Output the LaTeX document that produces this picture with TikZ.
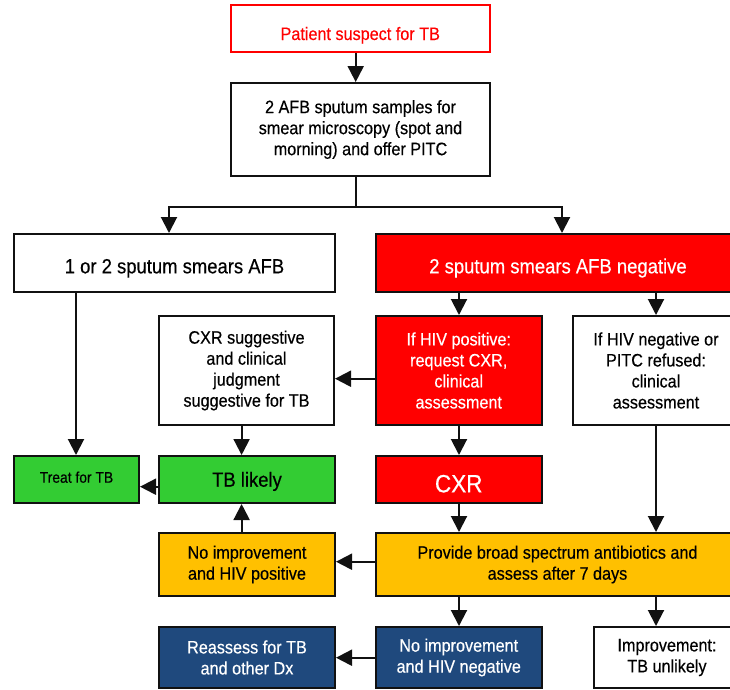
\documentclass[tikz,border=0pt]{standalone}
\usepackage{fontspec}
\setmainfont{Liberation Sans}[FakeStretch=0.9,FakeBold=0.4]
\usetikzlibrary{arrows.meta}
\definecolor{tbred}{HTML}{FF0000}
\definecolor{tbgreen}{HTML}{33CC33}
\definecolor{tbyellow}{HTML}{FFC000}
\definecolor{tbblue}{HTML}{1F497D}
\definecolor{tbline}{HTML}{111111}
\begin{document}
\begin{tikzpicture}[x=1pt,y=-1pt,
  box/.style={draw=tbline,line width=2pt,rectangle,inner sep=0pt,align=center,
    font=\fontsize{18}{21}\selectfont},
  bl/.style={text height=#1,text depth=0pt},
  redbox/.style={box,fill=tbred,text=white},
  greenbox/.style={box,fill=tbgreen},
  yellowbox/.style={box,fill=tbyellow},
  bluebox/.style={box,fill=tbblue,text=white},
  arr/.style={draw=tbline,line width=2pt,-{Triangle[length=16pt,width=16pt]}},
  ln/.style={draw=tbline,line width=2pt}]
\useasboundingbox (0,0) rectangle (730,689);
\fill[white] (0,0) rectangle (730,689);

% column / row helpers
\coordinate (cA) at (355.7,0);
\coordinate (cL) at (169,0);
\coordinate (cR) at (562,0);
\coordinate (c1) at (76,0);
\coordinate (c2) at (459,0);
\coordinate (c3) at (656,0);
\coordinate (c4) at (241.6,0);
\coordinate (split) at (355.7,207);
\coordinate (rA) at (0,378.7);
\coordinate (rB) at (0,486.7);
\coordinate (rC) at (0,561.7);
\coordinate (rD) at (0,657.7);

% nodes
\node[box,bl=23pt,draw=tbred,text=tbred,minimum width=259.5,minimum height=47] (patient) at (360.25,28.5) {Patient suspect for TB};
\node[box,minimum width=259,minimum height=93] (samples) at (360.5,129.5) {2 AFB sputum samples for\\smear microscopy (spot and\\morning) and offer PITC};
\node[box,bl=20.6pt,minimum width=321,minimum height=58,font=\fontsize{20.5}{24}\selectfont] (afbpos) at (174.5,263) {1 or 2 sputum smears AFB};
\node[redbox,bl=20.6pt,minimum width=364,minimum height=58,font=\fontsize{20.5}{24}\selectfont] (afbneg) at (558,263) {2 sputum smears AFB negative};

\node[box,minimum width=175,minimum height=109] (cxrsugg) at (246.5,370.5) {CXR suggestive\\and clinical\\judgment\\suggestive for TB};
\node[redbox,minimum width=165.5,minimum height=109] (hivpos) at (458.75,370.5) {If HIV positive:\\request CXR,\\clinical\\assessment};
\node[box,minimum width=166,minimum height=109] (hivneg) at (656,370.5) {If HIV negative or\\PITC refused:\\clinical\\assessment};

\node[greenbox,bl=6.4pt,minimum width=125,minimum height=47,font=\fontsize{15.4}{18}\selectfont] (treat) at (76.5,479.5) {Treat for TB};
\node[greenbox,bl=14.4pt,minimum width=176,minimum height=47,font=\fontsize{20.5}{24}\selectfont] (tblikely) at (247,479.5) {TB likely};
\node[redbox,bl=25.6pt,minimum width=165.5,minimum height=47,font=\fontsize{25}{28}\selectfont] (cxr) at (458.75,479.5) {CXR};

\node[yellowbox,minimum width=176,minimum height=63] (noimppos) at (247,564.5) {No improvement\\and HIV positive};
\node[yellowbox,minimum width=363,minimum height=63] (provide) at (557.5,564.5) {Provide broad spectrum antibiotics and\\assess after 7 days};

\node[bluebox,minimum width=176,minimum height=61] (reassess) at (247,657.5) {Reassess for TB\\and other Dx};
\node[bluebox,minimum width=165.5,minimum height=61] (noimpneg) at (458.75,657.5) {No improvement\\and HIV negative};
\node[box,minimum width=146,minimum height=61] (improve) at (667,657.5) {Improvement:\\TB unlikely};

% connectors
\draw[arr] (patient.south -| cA) -- (samples.north -| cA);
\draw[ln] (samples.south -| cA) -- (split);
\draw[arr] (split) -| (afbpos.north -| cL);
\draw[arr] (split) -| (afbneg.north -| cR);

\draw[arr] (afbpos.south -| c1) -- (treat.north -| c1);
\draw[arr] (afbneg.south -| c2) -- (hivpos.north -| c2);
\draw[arr] (afbneg.south -| c3) -- (hivneg.north -| c3);

\draw[arr] (hivpos.west |- rA) -- (cxrsugg.east |- rA);
\draw[arr] (cxrsugg.south -| c4) -- (tblikely.north -| c4);
\draw[arr] (hivpos.south -| c2) -- (cxr.north -| c2);
\draw[arr] (hivneg.south -| c3) -- (provide.north -| c3);

\draw[arr] (tblikely.west |- rB) -- (treat.east |- rB);
\draw[arr] (cxr.south -| c2) -- (provide.north -| c2);

\draw[arr] (provide.west |- rC) -- (noimppos.east |- rC);
\draw[arr] (noimppos.north -| c4) -- (tblikely.south -| c4);

\draw[arr] (provide.south -| c2) -- (noimpneg.north -| c2);
\draw[arr] (provide.south -| c3) -- (improve.north -| c3);
\draw[arr] (noimpneg.west |- rD) -- (reassess.east |- rD);
\end{tikzpicture}
\end{document}
